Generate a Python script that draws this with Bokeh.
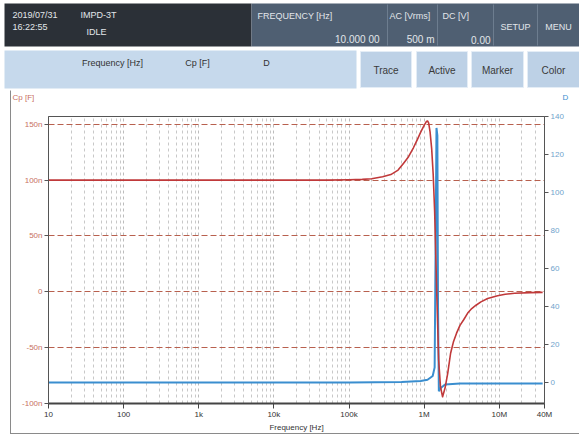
from bokeh.plotting import figure
from bokeh.models import Range1d, LinearAxis, FixedTicker, ColumnDataSource, Spacer
from bokeh.layouts import column, row
from bokeh.embed import file_html
from bokeh.resources import INLINE
from bokeh.core.properties import value

FONT = "Liberation Sans"

# ---------------- data ----------------
freq_cp = [10, 1e2, 1e3, 1e4, 5e4, 1e5, 1.5e5, 2e5, 2.8e5, 3.6e5, 4.5e5, 5.3e5, 6.2e5,
           7.2e5, 8.2e5, 9e5, 1.0e6, 1.07e6, 1.11e6, 1.15e6, 1.2e6, 1.26e6, 1.32e6,
           1.38e6, 1.47e6, 1.56e6, 1.65e6, 1.76e6, 1.9e6, 2.06e6, 2.25e6, 2.45e6,
           2.7e6, 3.0e6, 3.36e6, 3.8e6, 4.3e6, 4.9e6, 5.7e6, 7e6, 9.5e6, 1.2e7,
           1.6e7, 2.6e7, 3.78e7]
cp_nF = [100, 100, 100, 100, 100, 100.3, 100.7, 101.3, 103, 105, 109, 115, 121,
         129, 137, 143, 149, 152.5, 153, 151, 143, 128, 105,
         72, 0, -61, -85, -94, -86, -73, -55, -45,
         -37, -30, -25, -19, -15, -12, -9, -6, -3.5, -2.2,
         -1.3, -0.7, -0.5]

freq_d = [10, 1e3, 1e5, 5e5, 9e5, 1.11e6, 1.30e6, 1.38e6, 1.42e6, 1.46e6, 1.50e6,
          1.53e6, 1.57e6, 1.65e6, 1.9e6, 3e6, 1e7, 3.78e7]
d_val = [0, 0, 0.1, 0.3, 0.8, 1.5, 3.5, 8, 70, 134, 130,
         40, -4.5, -3, -1, -0.5, -0.5, -0.5]

x_ticks = [10, 100, 1000, 10000, 100000, 1000000, 10000000, 40000000]
x_tick_labels = ["10", "100", "1k", "10k", "100k", "1M", "10M", "40M"]
x_minor = [k * 10 ** d for d in range(1, 8) for k in range(2, 10) if k * 10 ** d < 40000000]
cp_ticks = [-100, -50, 0, 50, 100, 150]
cp_tick_labels = ["-100n", "-50n", "0", "50n", "100n", "150n"]
d_ticks = [0, 20, 40, 60, 80, 100, 120, 140]

status_left = ["2019/07/31", "16:22:55", "IMPD-3T", "IDLE"]
meas_labels = ["FREQUENCY [Hz]", "AC [Vrms]", "DC [V]"]
meas_values = ["10.000 00", "500 m", "0.00"]
menu_items = ["SETUP", "MENU"]
columns_hdr = ["Frequency [Hz]", "Cp [F]", "D"]
buttons = ["Trace", "Active", "Marker", "Color"]

# ---------------- header ----------------
h = figure(width=579, height=108, x_range=Range1d(0, 579), y_range=Range1d(108, 0),
           toolbar_location=None, output_backend="svg", min_border=0,
           x_axis_type=None, y_axis_type=None, outline_line_color=None)
h.xgrid.visible = False
h.ygrid.visible = False

h.quad(left=[4], right=[251], top=[3], bottom=[46], fill_color="#2b3037", line_color=None)
h.quad(left=[251], right=[579], top=[3], bottom=[46], fill_color="#4f5f72", line_color=None)
h.segment(x0=[387, 437, 493, 537], x1=[387, 437, 493, 537], y0=[4, 4, 4, 4], y1=[45, 45, 45, 45],
          line_color="#6d7d8f", line_width=1)

tc = "#e2e6ea"
h.text(x=[12, 12], y=[14, 26], text=status_left[:2], text_font=value(FONT), text_font_size="9px",
       text_color=tc, text_baseline="middle")
h.text(x=[80], y=[14], text=status_left[2:3], text_font=value(FONT), text_font_size="9px",
       text_color=tc, text_baseline="middle")
h.text(x=[86], y=[31], text=status_left[3:4], text_font=value(FONT), text_font_size="9px",
       text_color=tc, text_baseline="middle")
h.text(x=[257, 389, 442], y=[15, 15, 15], text=meas_labels, text_font=value(FONT), text_font_size="9px",
       text_color=tc, text_baseline="middle")
h.text(x=[379, 434, 490], y=[39, 39, 39], text=meas_values, text_font=value(FONT), text_font_size="10px",
       text_color=tc, text_baseline="middle", text_align="right")
h.text(x=[515, 558], y=[26, 26], text=menu_items, text_font=value(FONT), text_font_size="9px",
       text_color=tc, text_baseline="middle", text_align="center")

h.quad(left=[4], right=[356], top=[50], bottom=[88], fill_color="#c6d9ec", line_color=None)
h.quad(left=[360, 416, 471, 527], right=[411, 467, 523, 579], top=[51, 51, 51, 51],
       bottom=[87, 87, 87, 87], fill_color="#bdd1e6", line_color="#e4edf6", line_width=1)
h.text(x=[112, 197, 266], y=[62, 62, 62], text=columns_hdr, text_font=value(FONT), text_font_size="9px",
       text_color="#333333", text_baseline="middle", text_align="center")
h.text(x=[385.5, 441.5, 497, 553], y=[70, 70, 70, 70], text=buttons, text_font=value(FONT),
       text_font_size="10px", text_color="#3a3a3a", text_baseline="middle", text_align="center")

h.text(x=[12], y=[97], text=["Cp [F]"], text_font=value(FONT), text_font_size="8px",
       text_color="#c8705f", text_baseline="middle")
h.text(x=[562], y=[97], text=["D"], text_font=value(FONT), text_font_size="8px",
       text_color="#3d8fcf", text_baseline="middle")
h.segment(x0=[10], x1=[10], y0=[90], y1=[108], line_color="#8a8a8a", line_width=1)

# ---------------- main chart ----------------
p = figure(width=569, height=326, x_axis_type="log", x_range=Range1d(10, 4e7),
           y_range=Range1d(-100, 157), toolbar_location=None, output_backend="svg",
           min_border_left=38, min_border_right=35, min_border_top=8, min_border_bottom=29,
           background_fill_color="white", outline_line_color="#555555", outline_line_width=1)
p.border_fill_alpha = 0
p.styles = {"box-shadow": "inset 1px -1px 0 0 #8a8a8a"}

p.extra_y_ranges = {"D": Range1d(-11, 140)}

xt = FixedTicker(ticks=x_ticks, minor_ticks=x_minor)
p.xaxis.ticker = xt
p.xaxis.major_label_overrides = dict(zip(x_ticks, x_tick_labels))
p.xaxis.axis_label = "Frequency [Hz]"
p.xaxis.axis_label_text_font = FONT
p.xaxis.axis_label_text_font_size = "8px"
p.xaxis.axis_label_text_font_style = "normal"
p.xaxis.axis_label_text_color = "#333333"
p.xaxis.axis_label_standoff = 1
p.xaxis.major_label_text_font = FONT
p.xaxis.major_label_text_font_size = "8px"
p.xaxis.major_label_text_color = "#333333"
p.xaxis.major_label_standoff = 1
p.xaxis.axis_line_color = "#444444"
p.xaxis.axis_line_width = 2
p.xaxis.major_tick_line_color = "#444444"
p.xaxis.major_tick_out = 5
p.xaxis.major_tick_in = 0
p.xaxis.minor_tick_line_color = None

yt = FixedTicker(ticks=cp_ticks)
p.yaxis.ticker = yt
p.yaxis.major_label_overrides = dict(zip(cp_ticks, cp_tick_labels))
p.yaxis.major_label_text_font = FONT
p.yaxis.major_label_text_font_size = "8px"
p.yaxis.major_label_text_color = "#c8705f"
p.yaxis.major_label_standoff = 2
p.yaxis.axis_line_color = "#555555"
p.yaxis.major_tick_line_color = "#555555"
p.yaxis.major_tick_out = 4
p.yaxis.major_tick_in = 0
p.yaxis.minor_tick_line_color = None

rax = LinearAxis(y_range_name="D", ticker=FixedTicker(ticks=d_ticks))
rax.major_label_text_font = FONT
rax.major_label_text_font_size = "8px"
rax.major_label_text_color = "#6fa3cc"
rax.major_label_standoff = 2
rax.axis_line_color = "#555555"
rax.major_tick_line_color = "#555555"
rax.major_tick_out = 4
rax.major_tick_in = 0
rax.minor_tick_line_color = None
p.add_layout(rax, "right")

p.xgrid.ticker = xt
p.xgrid.grid_line_color = "#bcbcbc"
p.xgrid.grid_line_dash = "3 3"
p.xgrid.minor_grid_line_color = "#c8c8c8"
p.xgrid.minor_grid_line_dash = "3 3"
p.ygrid.ticker = yt
p.ygrid.grid_line_color = "#b8604e"
p.ygrid.grid_line_dash = "6 3"
p.ygrid.grid_line_width = 1

src_d = ColumnDataSource(dict(f=freq_d, d=d_val))
src_cp = ColumnDataSource(dict(f=freq_cp, cp=cp_nF))
p.line("f", "d", source=src_d, y_range_name="D", line_color="#3a8ecf", line_width=2)
p.line("f", "cp", source=src_cp, line_color="#c0393a", line_width=1.6, line_join="round")

layout = column(h, row(Spacer(width=10, height=326), p))
open("out.html", "w").write(file_html(layout, INLINE))
